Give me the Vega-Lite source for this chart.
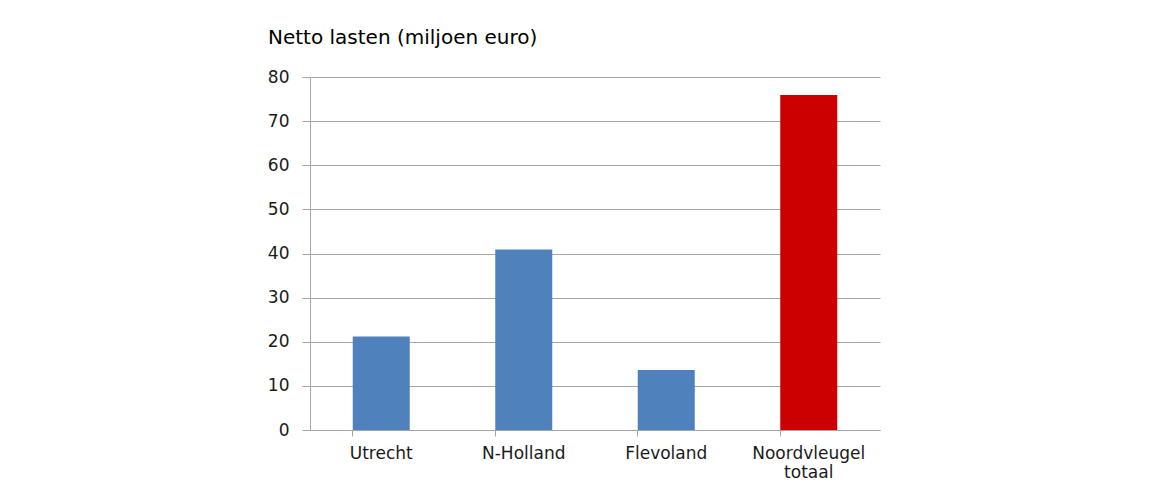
{
  "$schema": "https://vega.github.io/schema/vega-lite/v6.json",
  "width": 570,
  "height": 353,
  "autosize": {"type": "none"},
  "padding": {"left": 310, "top": 77, "right": 279, "bottom": 60},
  "background": "white",
  "title": {
    "text": "Netto lasten (miljoen euro)",
    "anchor": "start",
    "frame": "group",
    "dx": -42,
    "offset": 20,
    "font": "DejaVu Sans",
    "fontSize": 20,
    "fontWeight": "normal",
    "color": "#000000"
  },
  "data": {
    "values": [
      {"regio": "Utrecht", "lasten": 21.2, "groep": "provincie"},
      {"regio": "N-Holland", "lasten": 40.9, "groep": "provincie"},
      {"regio": "Flevoland", "lasten": 13.6, "groep": "provincie"},
      {"regio": "Noordvleugel totaal", "lasten": 75.9, "groep": "totaal"}
    ]
  },
  "mark": {"type": "bar"},
  "encoding": {
    "x": {
      "field": "regio",
      "type": "nominal",
      "sort": null,
      "scale": {"paddingInner": 0.6, "paddingOuter": 0.3},
      "axis": {
        "title": null,
        "labelAngle": 0,
        "bandPosition": 0,
        "labelBound": false,
        "labelOverlap": false,
        "labelExpr": "datum.value == 'Noordvleugel totaal' ? ['Noordvleugel', 'totaal'] : datum.value",
        "labelLineHeight": 19,
        "labelFont": "DejaVu Sans",
        "labelFontSize": 17,
        "labelColor": "#1a1a1a",
        "labelPadding": 9,
        "tickSize": 6,
        "tickColor": "#a6a6a6",
        "domainColor": "#a6a6a6",
        "grid": false
      }
    },
    "y": {
      "field": "lasten",
      "type": "quantitative",
      "scale": {"domain": [0, 80], "nice": false},
      "axis": {
        "title": null,
        "values": [0, 10, 20, 30, 40, 50, 60, 70, 80],
        "labelFont": "DejaVu Sans",
        "labelFontSize": 17,
        "labelColor": "#1a1a1a",
        "labelPadding": 13,
        "tickSize": 8,
        "tickColor": "#a6a6a6",
        "domainColor": "#a6a6a6",
        "gridColor": "#a6a6a6",
        "grid": true
      }
    },
    "color": {
      "field": "groep",
      "type": "nominal",
      "scale": {"domain": ["provincie", "totaal"], "range": ["#4f81bd", "#cc0000"]},
      "legend": null
    }
  },
  "config": {
    "view": {"stroke": null},
    "axis": {"domainWidth": 1, "tickWidth": 1, "gridWidth": 1, "gridOpacity": 1}
  }
}
